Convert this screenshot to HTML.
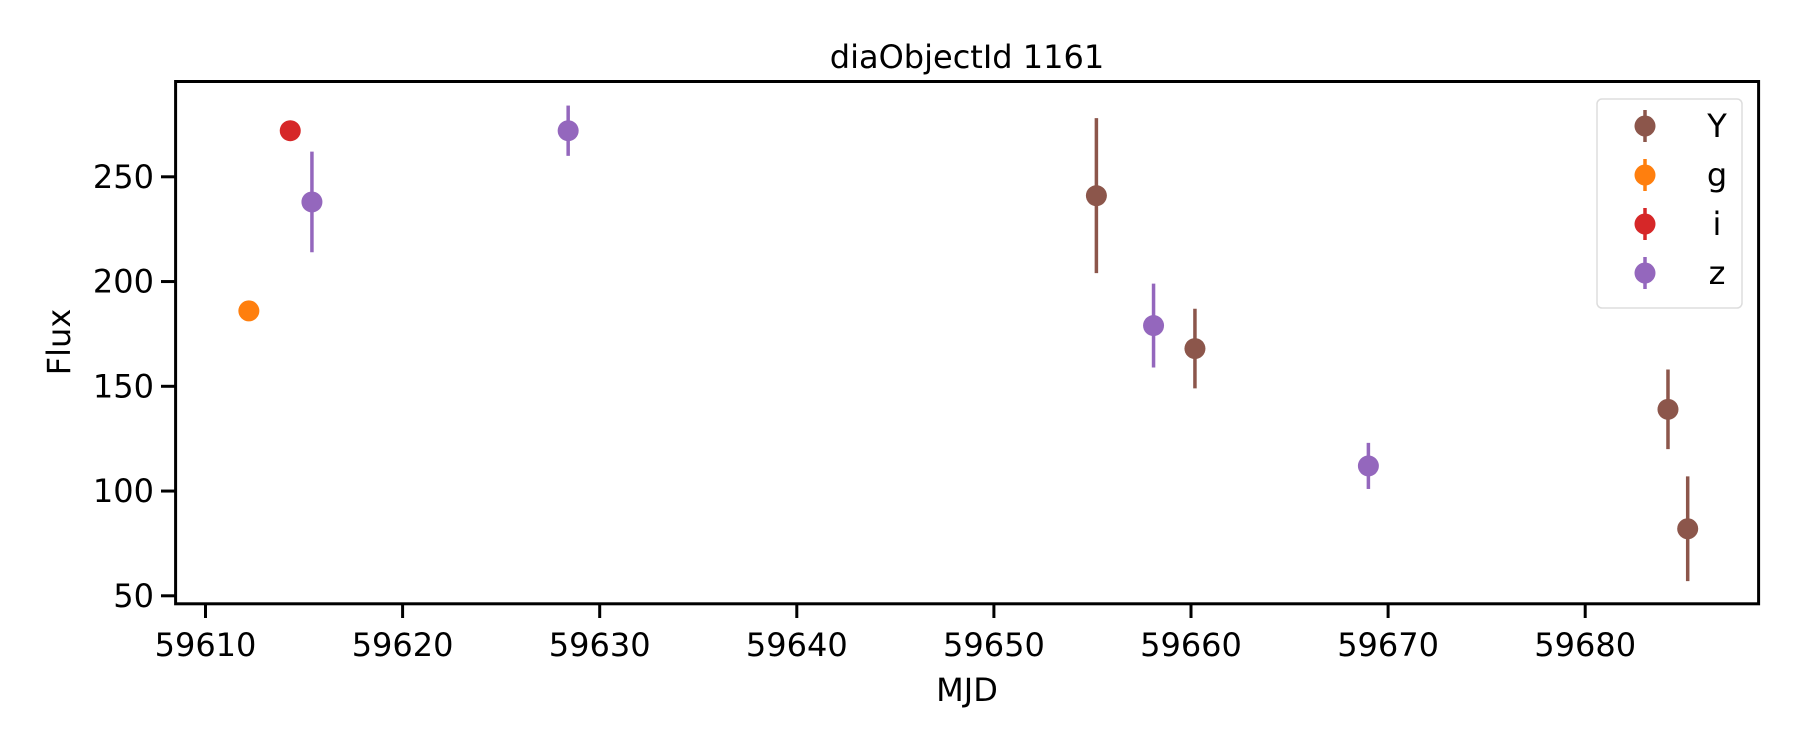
<!DOCTYPE html>
<html><head><meta charset="utf-8"><style>
body{margin:0;background:#fff;}
svg text{font-family:"DejaVu Sans","Liberation Sans",sans-serif;fill:#000;}
</style></head><body>
<svg id="chart" width="1800" height="750" xmlns="http://www.w3.org/2000/svg">
<text x="967" y="68" font-size="32" text-anchor="middle">diaObjectId 1161</text>
<g id="axes"></g><g id="marks"></g><g id="legend"></g>
<rect x="175.6" y="81.5" width="1583" height="522.3" fill="none" stroke="#000" stroke-width="3"/>
<text x="967" y="701" font-size="32" text-anchor="middle">MJD</text>
<text transform="translate(70,342) rotate(-90)" font-size="32" text-anchor="middle">Flux</text>
</svg>
<script>
const xTicks=[59610,59620,59630,59640,59650,59660,59670,59680];
const yTicks=[50,100,150,200,250];
const bands=["Y","g","i","z"];
const bandColors=["#8c564b","#ff7f0e","#d62728","#9467bd"];
const yMjd=[59655.2,59660.2,59684.2,59685.2];
const yFlux=[241,168,139,82];
const yErr=[37,19,19,25];
const gMjd=[59612.2];const gFlux=[186];const gErr=[1];
const iMjd=[59614.3];const iFlux=[272];const iErr=[1];
const zMjd=[59615.4,59628.4,59658.1,59669.0];
const zFlux=[238,272,179,112];
const zErr=[24,12,20,11];
const NS="http://www.w3.org/2000/svg";
const sx=v=>205.5+(v-59610)*19.71;
const sy=v=>595.8-(v-50)*2.095;
function mk(tag,attrs,parent){const e=document.createElementNS(NS,tag);for(const k in attrs)e.setAttribute(k,attrs[k]);parent.appendChild(e);return e;}
const axes=document.getElementById('axes'),marks=document.getElementById('marks'),leg=document.getElementById('legend');
xTicks.forEach(t=>{const x=sx(t);
 const l=mk('line',{x1:x,x2:x,y1:603.8,y2:618,stroke:'#000','stroke-width':3},axes);
 
 
 const tx=mk('text',{x:x,y:656,'font-size':32,'text-anchor':'middle'},axes);tx.textContent=t;
 
 });
yTicks.forEach(t=>{const y=sy(t);
 const l=mk('line',{x1:161,x2:175.6,y1:y,y2:y,stroke:'#000','stroke-width':3},axes);
 
 
 const tx=mk('text',{x:154,y:y+11,'font-size':32,'text-anchor':'end'},axes);tx.textContent=t;
 
 });
function series(xs,ys,es,c,name){xs.forEach((m,k)=>{const x=sx(m);
 const l=mk('line',{x1:x,x2:x,y1:sy(ys[k]+es[k]),y2:sy(ys[k]-es[k]),stroke:c,'stroke-width':3.5},marks);
 
 
 const p=mk('circle',{cx:x,cy:sy(ys[k]),r:10.5,fill:c},marks);
 
 });}
series(yMjd,yFlux,yErr,bandColors[0],'band-Y');
series(gMjd,gFlux,gErr,bandColors[1],'band-g');
series(iMjd,iFlux,iErr,bandColors[2],'band-i');
series(zMjd,zFlux,zErr,bandColors[3],'band-z');
const box=mk('rect',{x:1597,y:99,width:145,height:209,rx:5,fill:'#fff',stroke:'#ddd','stroke-width':1.5},leg);


bands.forEach((b,k)=>{const y=126+k*49;
 const g=mk('g',{},leg);
 
 
 mk('line',{x1:1645,x2:1645,y1:y-16,y2:y+16,stroke:bandColors[k],'stroke-width':3.5},g);
 mk('circle',{cx:1645,cy:y,r:10.5,fill:bandColors[k]},g);
 const t=mk('text',{x:1717,y:y+11,'font-size':32,'text-anchor':'middle'},g);t.textContent=b;});
</script>
</body></html>
